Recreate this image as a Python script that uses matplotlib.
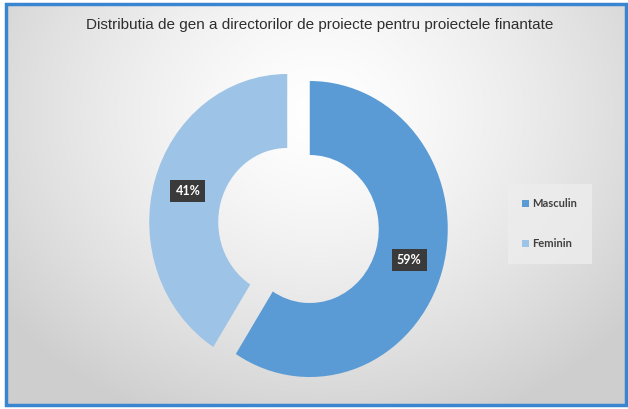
import numpy as np
import matplotlib
matplotlib.use("Agg")
import matplotlib.pyplot as plt
from matplotlib.patches import Rectangle

# ---- data ----
categories = ["Masculin", "Feminin"]
values = [59, 41]
colors = ["#5B9BD5", "#9DC3E6"]
title = "Distributia de gen a directorilor de proiecte pentru proiectele finantate"

W, H = 628, 409
fig = plt.figure(figsize=(W / 100, H / 100), dpi=100)

# ---- background with radial gradient and blue frame ----
bg = fig.add_axes([0, 0, 1, 1])
bg.set_xlim(0, W)
bg.set_ylim(H, 0)
bg.axis("off")
yy, xx = np.mgrid[0:H, 0:W]
dist = np.sqrt(((xx - 318) / 400.0) ** 2 + ((yy - 110) / 340.0) ** 2)
val = 1.0 - 0.19 * np.clip(dist, 0, 1) ** 1.4
img = np.dstack([val, val, val])
bg.imshow(img, extent=(6, 626, 405, 4), aspect="auto", zorder=0, interpolation="bilinear")
bg.add_patch(Rectangle((6, 4), 620, 401, fill=False, ec="#3A85D0", lw=2.5, zorder=2))

# title
fig.text(320 / W, 1 - 25 / H, title, ha="center", va="center", fontsize=11,
         color="#2E2E2E", family=["Liberation Sans Narrow", "Liberation Sans", "DejaVu Sans"])

# ---- donut ----
cx, cy = 298.5, 225.5
rh, rv = 138.0, 148.0
lim = 1.2
ax = fig.add_axes([(cx - lim * rh) / W, (H - cy - lim * rv) / H, 2 * lim * rh / W, 2 * lim * rv / H])
ax.patch.set_alpha(0)
wedges, texts, autotexts = ax.pie(
    values, colors=colors, startangle=90, counterclock=False,
    explode=[0.085, 0.085], radius=1.0,
    wedgeprops=dict(width=0.5, edgecolor="none"),
    autopct=lambda p: f"{round(p):d}%", pctdistance=0.75,
    textprops=dict(color="white", fontsize=9, fontweight="bold", family=["Lato", "DejaVu Sans"]),
)
for t in autotexts:
    t.set_bbox(dict(boxstyle="square,pad=0.4", fc="#3A3A3A", ec="none"))
ax.set_aspect("auto")
ax.set_xlim(-lim, lim)
ax.set_ylim(-lim, lim)
ax.axis("off")

# ---- legend ----
leg = fig.legend(wedges, categories, loc="upper left",
                 bbox_to_anchor=(508 / W, 1 - 184 / H), frameon=True,
                 labelspacing=2.6, handlelength=0.6, handleheight=0.6,
                 handletextpad=0.3, borderpad=1.3, borderaxespad=0,
                 prop=dict(family=["Lato", "DejaVu Sans"], size=8, weight="bold"))
fr = leg.get_frame()
fr.set_facecolor("#EDEDED")
fr.set_edgecolor("none")
fr.set_alpha(0.8)
fr.set_boxstyle("square,pad=0")
for t in leg.get_texts():
    t.set_color("#404040")

fig.savefig("out.png", dpi=100)
